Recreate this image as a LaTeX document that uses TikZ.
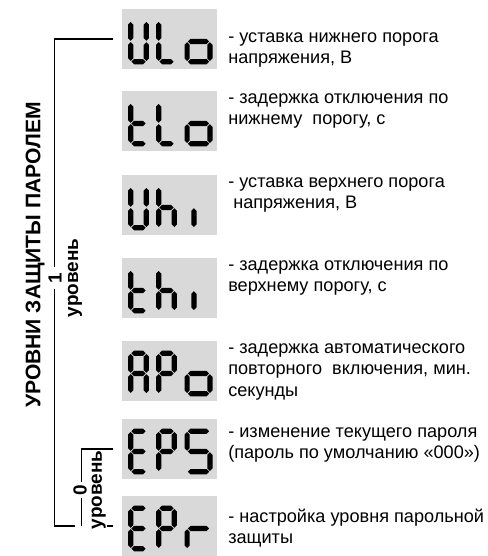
\documentclass[tikz,border=0pt]{standalone}
\usepackage{fontspec}
\setmainfont{Liberation Sans}

\tikzstyle{lcd}= [rectangle,fill=black!15,minimum width=2.375cm,minimum height=1.5cm,inner sep=0]
\tikzstyle{desc}= [anchor=north west,align=left,inner sep=0,font=\fontsize{12.9}{15.3}\selectfont]
\tikzstyle{nivel}= [rotate=90,inner sep=1pt,font=\bfseries\fontsize{13.5}{15}\selectfont]
\tikzstyle{linea}= [black,line width=0.9pt]

% seven segment glyphs
\def\segH{1.14}
\def\segw{0.13}
\def\segsp{0.018}
\newcommand{\hseg}[3]{\fill (#1,#3) -- ({#1+\segw/2},{#3+\segw/2}) -- ({#2-\segw/2},{#3+\segw/2}) -- (#2,#3) -- ({#2-\segw/2},{#3-\segw/2}) -- ({#1+\segw/2},{#3-\segw/2}) -- cycle;}
\newcommand{\vseg}[3]{\fill (#1,#2) -- ({#1+\segw/2},{#2+\segw/2}) -- ({#1+\segw/2},{#3-\segw/2}) -- (#1,#3) -- ({#1-\segw/2},{#3-\segw/2}) -- ({#1-\segw/2},{#2+\segw/2}) -- cycle;}
\newcommand{\sega}{\hseg{\segw/2+\segsp}{\cw-\segw/2-\segsp}{\segH-\segw/2}}
\newcommand{\segg}{\hseg{\segw/2+\segsp}{\cw-\segw/2-\segsp}{\segH/2}}
\newcommand{\segd}{\hseg{\segw/2+\segsp}{\cw-\segw/2-\segsp}{\segw/2}}
\newcommand{\segf}{\vseg{\segw/2}{\segH/2+\segsp}{\segH-\segw/2-\segsp}}
\newcommand{\segb}{\vseg{\cw-\segw/2}{\segH/2+\segsp}{\segH-\segw/2-\segsp}}
\newcommand{\sege}{\vseg{\segw/2}{\segw/2+\segsp}{\segH/2-\segsp}}
\newcommand{\segc}{\vseg{\cw-\segw/2}{\segw/2+\segsp}{\segH/2-\segsp}}
\newcommand{\lcdchar}[4]{%
	\begin{scope}[shift={(#1.south west)},xshift=#2cm,yshift=1.25mm]
		\def\cw{#3}
		\foreach \s in {#4} {\csname seg\s\endcsname}
	\end{scope}}
\newcommand{\lcdcode}[4]{\lcdchar{#1}{0.16}{0.52}{#2}\lcdchar{#1}{0.86}{0.52}{#3}\lcdchar{#1}{1.57}{0.7}{#4}}

\begin{document}
\begin{tikzpicture}
		\useasboundingbox (0,0) rectangle (12.2,-13.9);

		\node (ulo) at (4.2375,-0.975) [lcd] {};
		\lcdcode{ulo}{b,c,d,e,f}{d,e,f}{c,d,e,g}
		\node (t1) at (5.7,-0.67) [desc] {\strut- уставка нижнего порога\\напряжения, В};

		\node (tlo) at (4.2375,-3.025) [lcd] {};
		\lcdcode{tlo}{d,e,f,g}{d,e,f}{c,d,e,g}
		\node (t2) at (5.7,-2.194) [desc] {\strut- задержка отключения по\\нижнему\ \ порогу, с};

		\node (uhi) at (4.2375,-5.125) [lcd] {};
		\lcdchar{uhi}{0.16}{0.52}{b,c,d,e,f}
		\lcdchar{uhi}{0.86}{0.52}{c,e,f,g}
		\lcdchar{uhi}{1.74}{0.5}{e}
		\node (t3) at (5.7,-4.294) [desc] {\strut- уставка верхнего порога\\\ напряжения, В};

		\node (thi) at (4.2375,-7.2) [lcd] {};
		\lcdchar{thi}{0.16}{0.52}{d,e,f,g}
		\lcdchar{thi}{0.86}{0.52}{c,e,f,g}
		\lcdchar{thi}{1.74}{0.5}{e}
		\node (t4) at (5.7,-6.369) [desc] {\strut- задержка отключения по\\верхнему порогу, с};

		\node (apo) at (4.2375,-9.275) [lcd] {};
		\lcdcode{apo}{a,b,c,e,f,g}{a,b,e,f,g}{c,d,e,g}
		\node (t5) at (5.7,-8.444) [desc] {\strut- задержка автоматического\\повторного\ \ включения, мин.\\секунды};

		\node (eps) at (4.2375,-11.225) [lcd] {};
		\lcdcode{eps}{a,d,e,f,g}{a,b,e,f,g}{a,c,d,f,g}
		\node (t6) at (5.7,-10.544) [desc] {\strut- изменение текущего пароля\\(пароль по умолчанию «000»)};

		\node (epr) at (4.2375,-13.15) [lcd] {};
		\lcdcode{epr}{a,d,e,f,g}{a,b,e,f,g}{e,g}
		\node (t7) at (5.7,-12.669) [desc] {\strut- настройка уровня парольной\\защиты};

		\node (tit) at (0.875,-6.375) [rotate=90,font=\bfseries\fontsize{15}{18}\selectfont] {УРОВНИ ЗАЩИТЫ ПАРОЛЕМ};

		% level 1
		\draw[linea,shorten <=2.25mm,shorten >=2.25mm] (ulo.west) -- ++(-1.675,0) |- (epr.west);
		\node (u1) at (1.875,-6.95) [nivel] {уровень};
		\node (n1) at (1.375,-6.95) [nivel,fill=white,inner sep=4pt] {1};

		% level 0
		\node (u0) at (2.55,-12.25) [nivel,anchor=base,fill=white,text height=0.64cm,text depth=0.1cm] {уровень};
		\draw[linea,shorten <=2.25mm] (eps.west) -- ++(-1.0,0) coordinate (c0) -- (c0 |- epr.west);
		\node (n0) at (2.0,-12.25) [nivel,fill=white,inner sep=2pt] {0};

\end{tikzpicture}
\end{document}
